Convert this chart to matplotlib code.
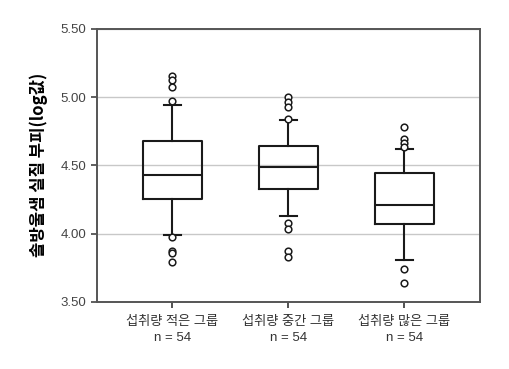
import matplotlib
matplotlib.use('Agg')
import matplotlib.pyplot as plt

plt.rcParams['font.family'] = ['Liberation Sans', 'Noto Sans CJK KR', 'DejaVu Sans']

groups = ['섭취량 적은 그룹', '섭취량 중간 그룹', '섭취량 많은 그룹']
counts = [54, 54, 54]
q1 = [4.25, 4.326, 4.067]
med = [4.426, 4.489, 4.206]
q3 = [4.677, 4.641, 4.441]
whislo = [3.991, 4.128, 3.808]
whishi = [4.941, 4.831, 4.621]
fliers = [
    [5.156, 5.124, 5.071, 4.973, 3.972, 3.874, 3.855, 3.789],
    [5.002, 4.965, 4.929, 4.841, 4.079, 4.030, 3.874, 3.830],
    [4.782, 4.690, 4.665, 4.631, 3.740, 3.639],
]
yticks = [3.5, 4.0, 4.5, 5.0, 5.5]

stats = []
for i in range(len(groups)):
    stats.append({'label': groups[i] + '\nn = ' + str(counts[i]),
                  'q1': q1[i], 'med': med[i], 'q3': q3[i],
                  'whislo': whislo[i], 'whishi': whishi[i],
                  'fliers': fliers[i]})

fig = plt.figure(figsize=(5.1, 3.69), dpi=100)
ax = fig.add_axes([0.190, 0.182, 0.751, 0.740])

lw = 1.5
ax.bxp(stats, positions=[1, 2, 3], widths=0.51, showfliers=True,
       boxprops=dict(color='#1a1a1a', linewidth=lw),
       medianprops=dict(color='#1a1a1a', linewidth=lw),
       whiskerprops=dict(color='#1a1a1a', linewidth=lw),
       capprops=dict(color='#1a1a1a', linewidth=lw),
       capwidths=0.15,
       flierprops=dict(marker='o', markerfacecolor='white', markeredgecolor='#1a1a1a',
                       markersize=4.8, markeredgewidth=1.1))

ax.set_xlim(0.35, 3.65)
ax.set_ylim(3.5, 5.5)
ax.set_yticks(yticks)
ax.set_yticklabels(['%.2f' % v for v in yticks])
ax.yaxis.grid(True, color='#c8c8c8', linewidth=1.0)
ax.set_axisbelow(True)

for s in ax.spines.values():
    s.set_color('#555555')
    s.set_linewidth(1.4)

ax.tick_params(axis='y', labelsize=9.5, colors='#444444', length=4, width=1.2)
ax.tick_params(axis='x', labelsize=9.5, colors='#333333', length=4, width=1.2, pad=6)
for t in ax.get_xticklabels():
    t.set_linespacing(1.5)
ax.set_ylabel('솔방울샘 실질 부피(log값)', fontsize=12, fontweight='bold',
              family=['Noto Sans CJK KR', 'DejaVu Sans'], labelpad=9)

plt.savefig('out.png', dpi=100)
